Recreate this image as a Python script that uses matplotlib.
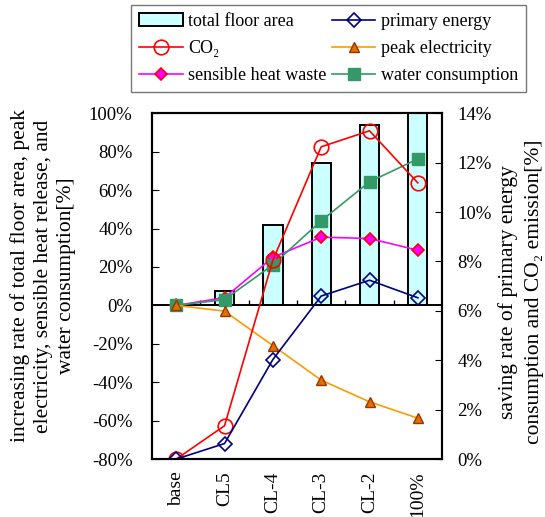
import matplotlib
matplotlib.use("Agg")
import matplotlib.pyplot as plt
from matplotlib.ticker import PercentFormatter
import numpy as np

plt.rcParams["font.family"] = ["Liberation Serif", "DejaVu Serif"]
plt.rcParams["font.size"] = 13.5
plt.rcParams["axes.unicode_minus"] = False

cases = ["base", "CL5", "CL-4", "CL-3", "CL-2", "100%"]

# left axis: increasing rates
floor_area = [0.0, 0.074, 0.419, 0.741, 0.938, 1.02]
sensible_heat = [0.0, 0.04, 0.25, 0.355, 0.348, 0.287]
water = [0.0, 0.03, 0.211, 0.44, 0.643, 0.762]
peak_elec = [0.0, -0.03, -0.209, -0.389, -0.502, -0.587]

# right axis: saving rates
co2 = [0.0, 0.0135, 0.0805, 0.1264, 0.1329, 0.1118]
primary = [0.0, 0.0063, 0.0403, 0.066, 0.0724, 0.0653]

left_ticks = [-0.8, -0.6, -0.4, -0.2, 0.0, 0.2, 0.4, 0.6, 0.8, 1.0]
right_ticks = [0.0, 0.02, 0.04, 0.06, 0.08, 0.10, 0.12, 0.14]

x = np.arange(len(cases)) + 0.5

fig = plt.figure(figsize=(5.45, 5.17), dpi=100)
ax = fig.add_axes([0.279, 0.112, 0.532, 0.669])
ax2 = ax.twinx()

bars = ax.bar(x, floor_area, width=0.4, color="#CCFFFF", edgecolor="black",
              linewidth=1.4, label="total floor area", zorder=2)
ax.axhline(0, color="black", linewidth=1.4, zorder=3)
ax.vlines(np.arange(1, len(cases)), 0, 0.03, color="black", linewidth=1, zorder=3)

l_heat, = ax.plot(x, sensible_heat, color="#FF00FF", marker="D", ms=6.5,
                  mfc="#FF00FF", mec="red", mew=1.2, lw=1.2,
                  label="sensible heat waste", zorder=4)
l_water, = ax.plot(x, water, color="#339966", marker="s", ms=8.5,
                   mfc="#339966", mec="#339966", lw=1.2,
                   label="water consumption", zorder=4)
l_peak, = ax.plot(x, peak_elec, color="#FF9900", marker="^", ms=7.5,
                  mfc="#E07000", mec="#993300", lw=1.2,
                  label="peak electricity", zorder=4)

l_co2, = ax2.plot(x, co2, color="red", marker="o", ms=10.5, mfc="none", mec="red",
                  mew=1.2, lw=1.2, label="CO\u2082")
l_prim, = ax2.plot(x, primary, color="#000080", marker="D", ms=7, mfc="none",
                   mec="#000080", mew=1.2, lw=1.2, label="primary energy")

ax.set_xlim(0, len(cases))
ax.set_ylim(-0.8, 1.0)
ax.set_yticks(left_ticks)
ax.yaxis.set_major_formatter(PercentFormatter(1.0, decimals=0))
ax2.set_ylim(0, 0.14)
ax2.set_yticks(right_ticks)
ax2.yaxis.set_major_formatter(PercentFormatter(1.0, decimals=0))

ax.set_xticks(x)
ax.set_xticklabels(cases, rotation=90, fontsize=14)
ax.tick_params(axis="x", length=0, pad=9)
ax.tick_params(axis="y", direction="in", length=5, pad=14)
ax2.tick_params(axis="y", direction="in", length=5, pad=11)
for a in (ax, ax2):
    for sp in a.spines.values():
        sp.set_linewidth(1.5)

fig.text(43 / 545, 1 - 276 / 517,
         "increasing rate of total floor area, peak\n"
         "electricity, sensible heat release, and\n"
         "water consumption[%]",
         rotation=90, ha="center", va="center", ma="center",
         fontsize=15.5, linespacing=1.3)
fig.text(521 / 545, 1 - 292 / 517,
         "saving rate of primary energy\n"
         "consumption and CO\u2082 emission[%]",
         rotation=90, ha="center", va="center", ma="center",
         fontsize=15.5, linespacing=1.45)

handles = [bars, l_co2, l_heat, l_prim, l_peak, l_water]
fig.legend(handles, [h.get_label() for h in handles], ncol=2,
           loc="upper right", bbox_to_anchor=(526 / 545, 1 - 5 / 517),
           borderaxespad=0, frameon=True, fancybox=False, edgecolor="#555555",
           handlelength=2.4, handletextpad=0.3, columnspacing=0.3,
           labelspacing=0.55, borderpad=0.45, fontsize=13)

fig.savefig("out.png", dpi=100)
